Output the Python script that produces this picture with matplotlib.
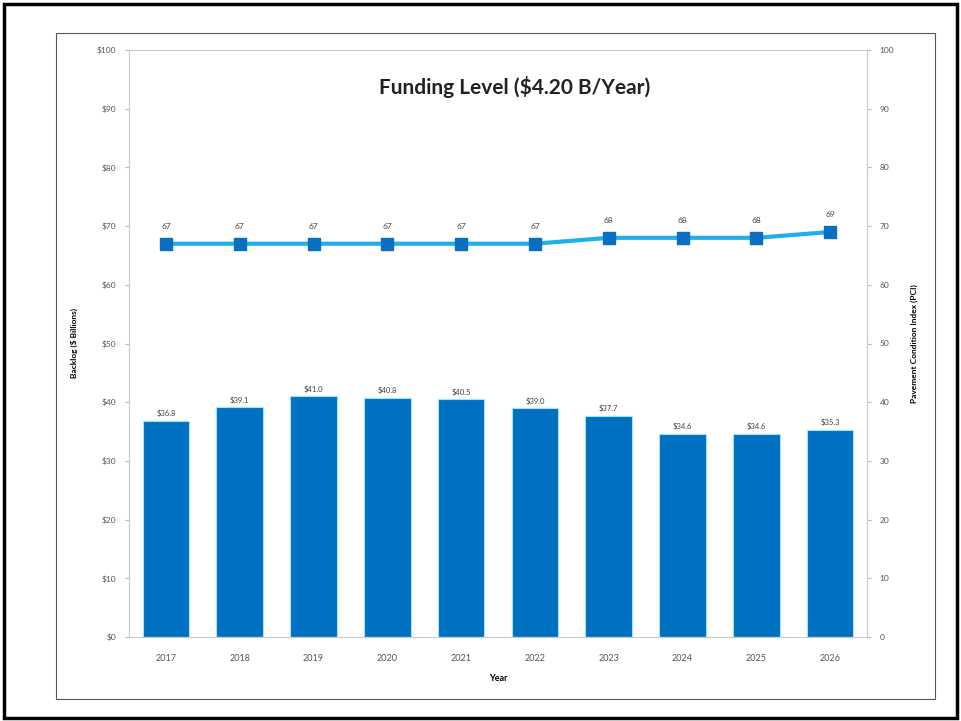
import matplotlib
matplotlib.use('Agg')
import matplotlib.pyplot as plt
import matplotlib.patches as patches

# --- Data ---
years = ['2017', '2018', '2019', '2020', '2021', '2022', '2023', '2024', '2025', '2026']
backlog = [36.8, 39.1, 41.0, 40.8, 40.5, 39.0, 37.7, 34.6, 34.6, 35.3]
pci = [67, 67, 67, 67, 67, 67, 68, 68, 68, 69]
left_ticks = [0, 10, 20, 30, 40, 50, 60, 70, 80, 90, 100]

plt.rcParams['font.family'] = ['Lato', 'DejaVu Sans']

fig = plt.figure(figsize=(9.61, 7.21), dpi=100)

# outer black frame and inner chart box (figure coords)
W, H = 961.0, 721.0
fig.patches.append(patches.Rectangle((4 / W, 1 - 718 / H), 953 / W, 714 / H, transform=fig.transFigure,
                                     fill=False, edgecolor='black', linewidth=2.5))
fig.patches.append(patches.Rectangle((56 / W, 1 - 699 / H), 879 / W, 666 / H, transform=fig.transFigure,
                                     fill=False, edgecolor='#555555', linewidth=0.8))

ax = fig.add_axes([129 / W, 84 / H, 738 / W, 587 / H])
x = list(range(len(years)))
ax.bar(x, backlog, width=0.63, color='#0070c0', edgecolor='#9fe3ff', linewidth=0.8, zorder=2)
for xi, v in zip(x, backlog):
    ax.text(xi, v + 0.6, f'${v:.1f}', ha='center', va='bottom', fontsize=5.5, color='#444444')

ax.set_ylim(0, 100)
ax.set_xlim(-0.5, len(years) - 0.5)
ax.set_yticks(left_ticks)
ax.set_yticklabels([f'${t}' for t in left_ticks], fontsize=6, color='#555555')
ax.set_xticks(x)
ax.set_xticklabels(years, fontsize=6.5, color='#555555')
ax.tick_params(axis='both', length=3, color='#bbbbbb', pad=6)
ax.tick_params(axis='x', length=0, pad=12)
for s in ax.spines.values():
    s.set_color('#cccccc')
    s.set_linewidth(0.8)
ax.set_ylabel('Backlog ($ Billions)', fontsize=6, fontweight='bold', labelpad=14)
ax.set_xlabel('Year', fontsize=6.5, fontweight='bold', labelpad=8)

ax2 = ax.twinx()
ax2.plot(x, pci, color='#1fb0ea', linewidth=3, marker='s', markersize=8,
         markerfacecolor='#0a6fc0', markeredgecolor='#0a6fc0', zorder=3)
for xi, v in zip(x, pci):
    ax2.text(xi, v + 2.4, f'{v}', ha='center', va='bottom', fontsize=6, color='#444444')
ax2.set_ylim(0, 100)
ax2.set_yticks(left_ticks)
ax2.set_yticklabels([str(t) for t in left_ticks], fontsize=6, color='#555555')
ax2.tick_params(axis='y', length=3, color='#bbbbbb', pad=6)
for s in ax2.spines.values():
    s.set_color('#cccccc')
    s.set_linewidth(0.8)
ax2.set_ylabel('Pavement Condition Index (PCI)', fontsize=6, fontweight='bold', labelpad=12)

fig.text(515 / W, 1 - 87 / H, 'Funding Level ($4.20 B/Year)', fontsize=15, fontweight='bold',
         color='#222222', ha='center', va='center')

fig.savefig('out.png', dpi=100)
